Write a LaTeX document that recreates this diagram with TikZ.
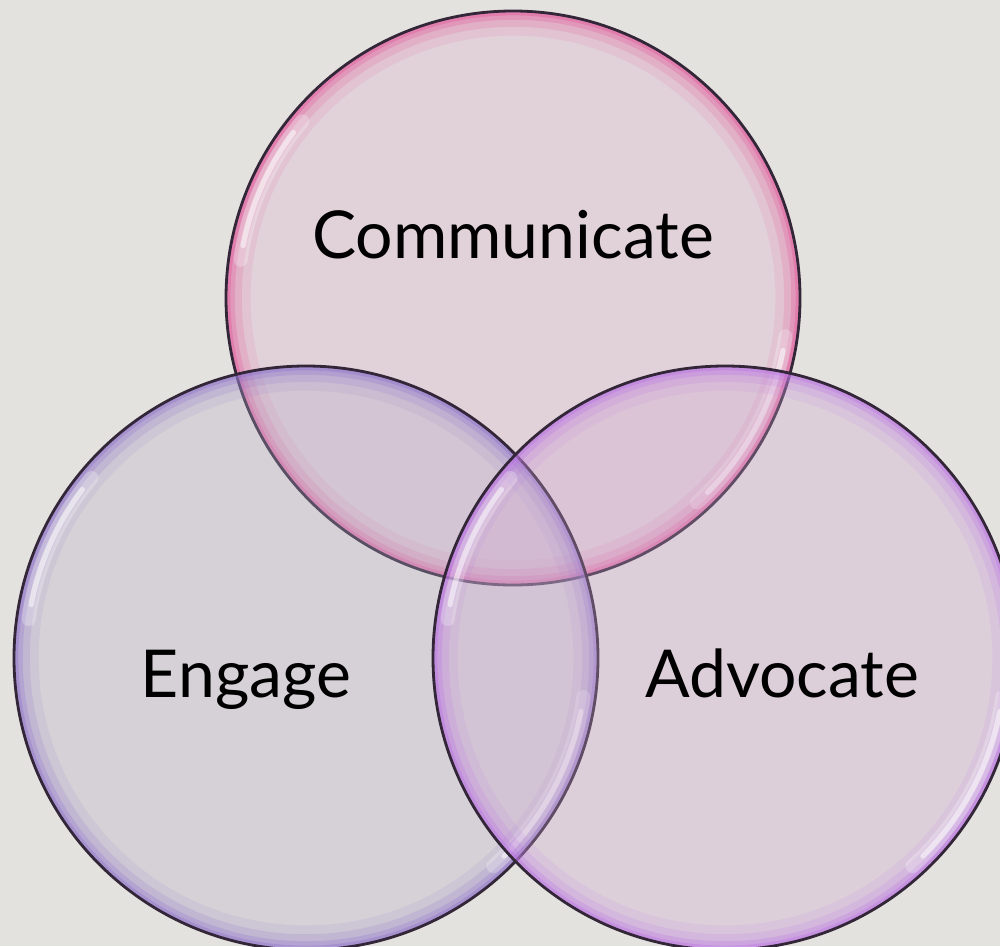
\documentclass[tikz,border=0pt]{standalone}
\usepackage{fontspec}
\setmainfont{Lato}
\definecolor{bgcol}{RGB}{228,226,222}
\definecolor{rimline}{RGB}{50,38,56}
\definecolor{pinkfill}{RGB}{221,170,205}
\definecolor{lilacfill}{RGB}{181,172,200}
\definecolor{mauvefill}{RGB}{208,166,210}
\definecolor{pinkrim}{RGB}{226,80,150}
\definecolor{lilacrim}{RGB}{140,110,205}
\definecolor{mauverim}{RGB}{185,110,230}
\tikzstyle{bubble} = [circle, inner sep=0pt, draw=rimline, line width=.8pt, fill opacity=.3]
\tikzstyle{word} = [anchor=base, font=\fontsize{18.8}{20}\selectfont, text=black]
% #1 radius (cm), #2 rim colour
\newcommand{\glow}[2]{%
  \foreach \w/\o in {14/.10,9/.16,5/.25,2.5/.35}{%
    \draw[line width=\w pt, #2, opacity=\o] (path picture bounding box.center) circle (#1cm);}
  \foreach \a/\b in {140/172,-48/-8}{%
    \draw[line width=4pt, white, opacity=.25, line cap=round]
      ([shift={(\a:#1cm-0.12cm)}]path picture bounding box.center) arc (\a:\b:#1cm-0.12cm);
    \draw[line width=1.5pt, white, opacity=.5, line cap=round]
      ([shift={(\a+3:#1cm-0.12cm)}]path picture bounding box.center) arc (\a+3:\b-3:#1cm-0.12cm);}
}
\begin{document}
\begin{tikzpicture}
  \fill[bgcol] (0,0) rectangle (10,9.46);
  \useasboundingbox (0,0) rectangle (10,9.46);
  % the three bubbles
  \node[bubble, minimum size=5.74cm, fill=pinkfill, path picture={\glow{2.87}{pinkrim}}] (comm) at (5.13,6.48) {};
  \node[bubble, minimum size=5.84cm, fill=lilacfill, path picture={\glow{2.92}{lilacrim}}] (eng) at (3.06,2.88) {};
  \node[bubble, minimum size=5.84cm, fill=mauvefill, path picture={\glow{2.92}{mauverim}}] (adv) at (7.25,2.88) {};
  % labels
  \node[word] (commtxt) at ([yshift=4mm]comm.center) {Communicate};
  \node[word] (engtxt) at ([xshift=-6mm, yshift=-3.9mm]eng.center) {Engage};
  \node[word] (advtxt) at ([xshift=5.7mm, yshift=-3.9mm]adv.center) {Advocate};
\end{tikzpicture}
\end{document}
